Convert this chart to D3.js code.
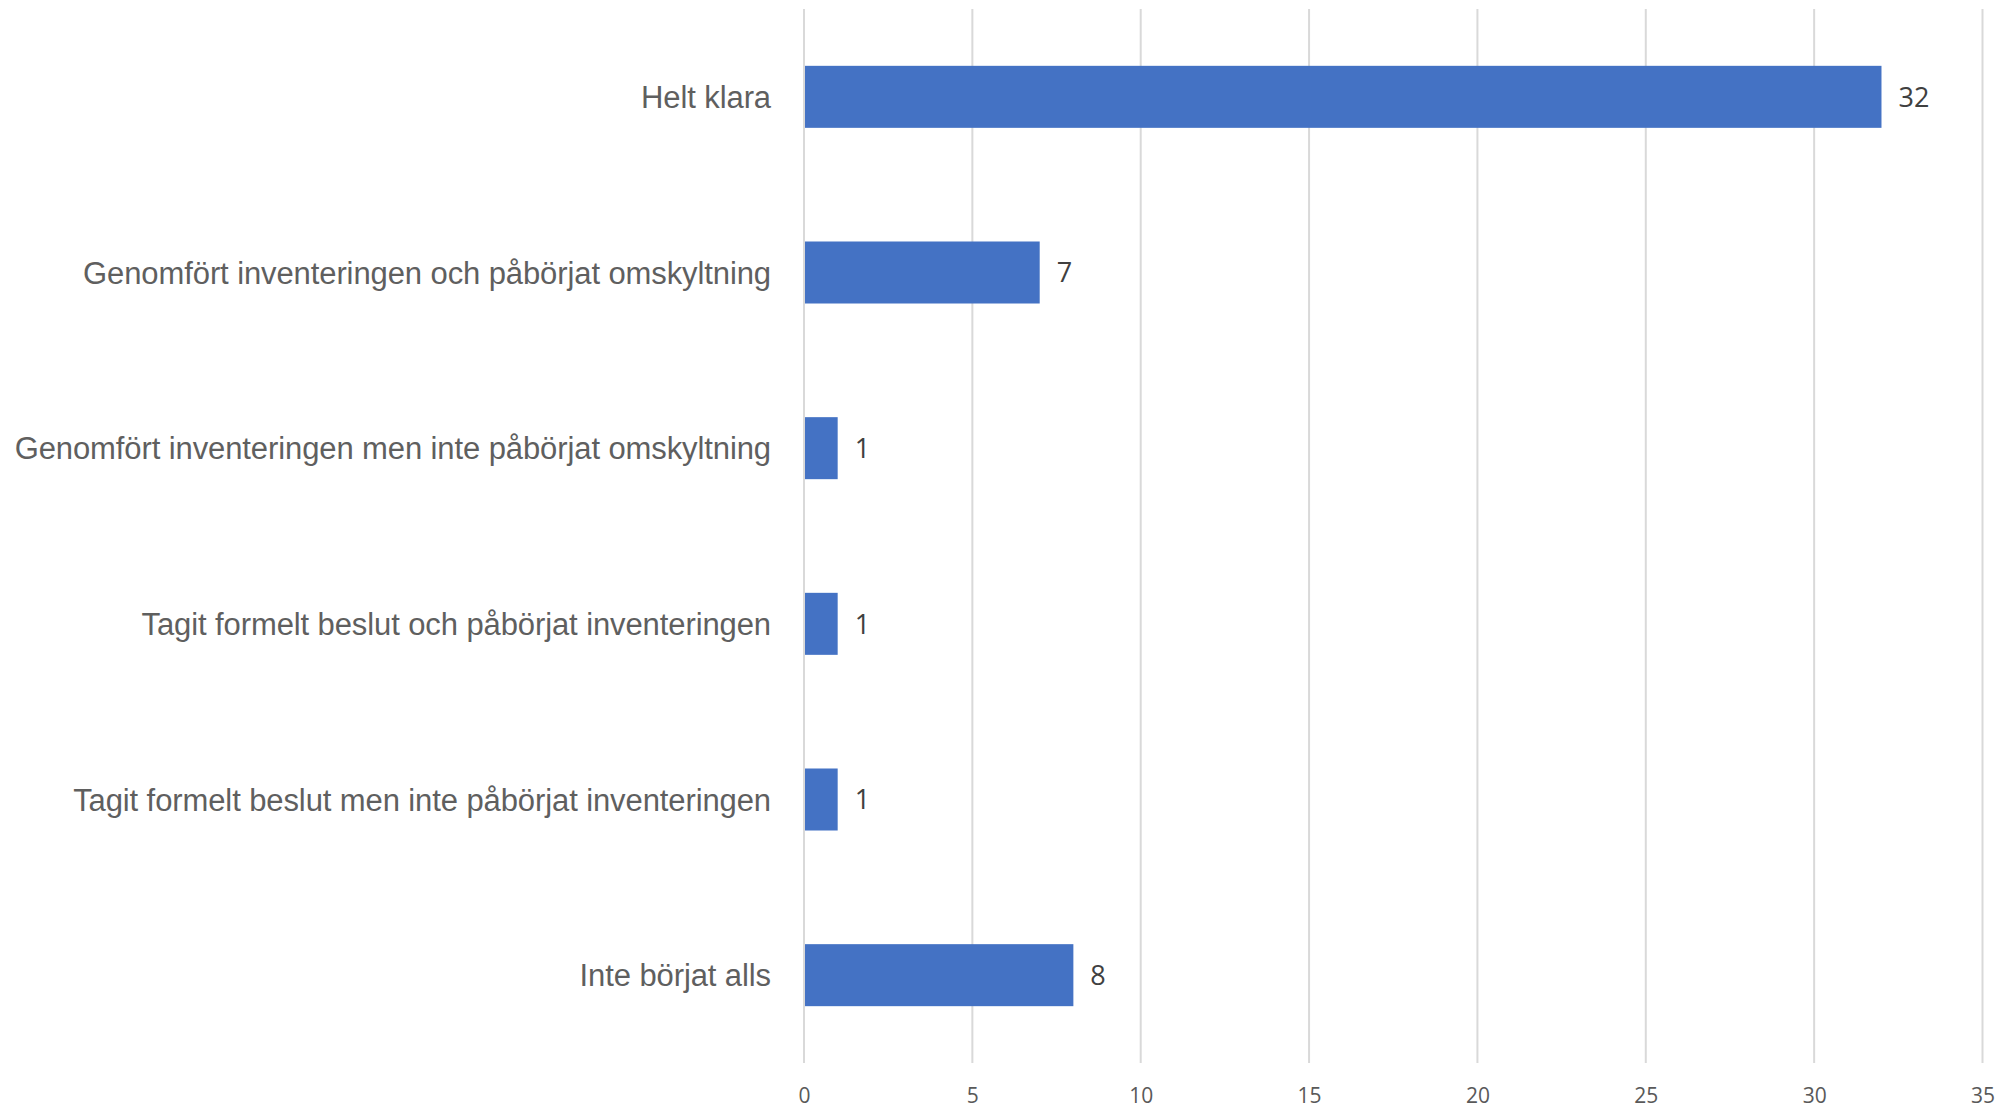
<!DOCTYPE html>
<html><head><meta charset="utf-8">
<script src="https://cdn.jsdelivr.net/npm/d3@7"></script>
<style>body{margin:0;background:#fff}</style>
</head><body>
<svg id="c" width="2005" height="1108"></svg>
<script>
const categories = [
  "Helt klara",
  "Genomfört inventeringen och påbörjat omskyltning",
  "Genomfört inventeringen men inte påbörjat omskyltning",
  "Tagit formelt beslut och påbörjat inventeringen",
  "Tagit formelt beslut men inte påbörjat inventeringen",
  "Inte börjat alls"
];
const values = [32, 7, 1, 1, 1, 8];
const ticks = [0, 5, 10, 15, 20, 25, 30, 35];

(function () {
const svg = d3.select("#c");
const pLeft = 804, pRight = 1982.5, pTop = 9, pBottom = 1063;
const x = d3.scaleLinear().domain([0, 35]).range([pLeft, pRight]);
const y = d3.scaleBand().domain(categories).range([pTop, pBottom]).paddingInner(0.647).paddingOuter(0.3235);

// gridlines
svg.append("g").selectAll("line").data(ticks).join("line")
  .attr("x1", d => x(d)).attr("x2", d => x(d))
  .attr("y1", pTop).attr("y2", pBottom)
  .attr("stroke", "#d9d9d9").attr("stroke-width", 2);

// bars
svg.append("g").selectAll("rect").data(values).join("rect")
  .attr("x", x(0) + 1)
  .attr("y", (d, i) => y(categories[i]))
  .attr("width", d => x(d) - x(0) - 1)
  .attr("height", y.bandwidth())
  .attr("fill", "#4472c4");

// value labels
svg.append("g").selectAll("text").data(values).join("text")
  .attr("x", d => x(d) + 17)
  .attr("y", (d, i) => y(categories[i]) + y.bandwidth() / 2)
  .attr("dy", "0.36em")
  .attr("font-family", "'Open Sans', sans-serif")
  .attr("font-size", 27)
  .attr("fill", "#404040")
  .text(d => d);

// category labels
svg.append("g").selectAll("text").data(categories).join("text")
  .attr("x", 771)
  .attr("y", d => y(d) + y.bandwidth() / 2)
  .attr("dy", "0.36em")
  .attr("text-anchor", "end")
  .attr("font-family", "'Liberation Sans', Arial, sans-serif")
  .attr("font-size", 31)
  .attr("letter-spacing", "-0.1px")
  .attr("fill", "#5f5f5f")
  .text(d => d);

// x axis tick labels
const axis = d3.axisBottom(x).tickValues(ticks).tickSize(0).tickPadding(0);
const g = svg.append("g").attr("transform", `translate(0,${pBottom})`).call(axis);
g.select(".domain").remove();
g.selectAll("text")
  .attr("y", 0).attr("dy", 0)
  .attr("transform", "translate(0,40)")
  .attr("font-family", "'Open Sans', sans-serif")
  .attr("font-size", 21)
  .attr("fill", "#595959");
})();
</script>
</body></html>
